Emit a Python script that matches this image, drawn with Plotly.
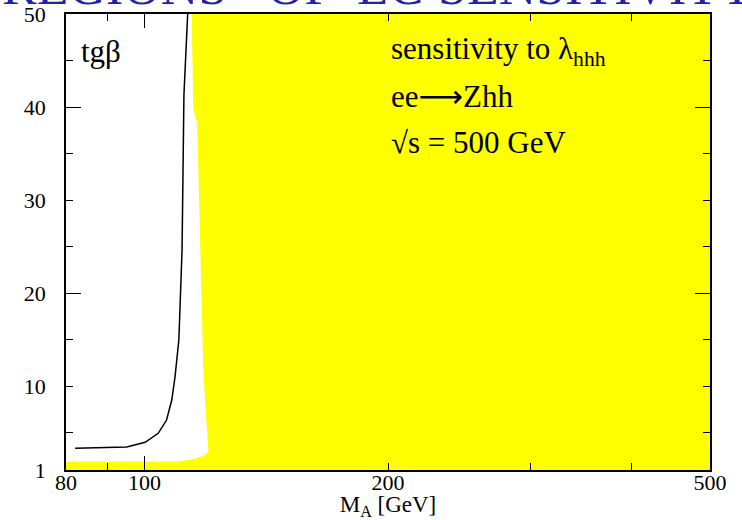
import plotly.graph_objects as go
import math

# ---- data ----
x_range = [80, 500]
y_range = [1, 50]
x_tick_vals = [80, 100, 200, 500]
x_tick_text = ["80", "100", "200", "500"]
x_minor_ticks = [90, 300, 400]
x_long_ticks = [100]
y_tick_vals = [1, 10, 20, 30, 40, 50]
y_tick_text = ["1", "10", "20", "30", "40", "50"]
y_minor_ticks = [5, 15, 25, 35, 45]
y_long_ticks = [20, 40]

# boundary of the non-sensitive (white) region, from top to bottom-left
bnd_ma = [114.4, 114.9, 114.9, 116.2, 116.8, 117.1, 118.2, 119.0, 120.0, 118.2, 114.8, 109.7, 80]
bnd_tgb = [50, 41.8, 39.9, 38.3, 30.0, 24.6, 12.1, 7.45, 2.97, 2.5, 2.15, 1.9, 1.9]

# black curve
curve_ma = [82.1, 95.1, 100.2, 104.0, 106.5, 108.1, 109.1, 110.3, 111.3, 111.9, 113.1]
curve_tgb = [3.33, 3.47, 3.98, 4.94, 6.37, 8.52, 11.0, 15.0, 24.6, 41.3, 50]

title_words = ["REGIONS", "OF", "LC", "SENSITIVITY"]
title_word_x = [0, 265, 355, 436]

# ---- figure ----
W, H = 742, 520
ml, mr, mt, mb = 66, 32, 14, 50
pw, ph = W - ml - mr, H - mt - mb
SERIF = "Liberation Serif"

poly_x = bnd_ma + [x_range[0], x_range[1], x_range[1]]
poly_y = bnd_tgb + [y_range[0], y_range[0], y_range[1]]

fig = go.Figure()
fig.add_trace(go.Scatter(x=poly_x, y=poly_y, fill="toself", fillcolor="#ffff00",
                         mode="lines", line=dict(width=0, color="#ffff00"),
                         showlegend=False, hoverinfo="skip"))
fig.add_trace(go.Scatter(x=curve_ma, y=curve_tgb, mode="lines",
                         line=dict(color="black", width=1.5),
                         showlegend=False, hoverinfo="skip"))
fig.add_trace(go.Scatter(x=[None], y=[None], xaxis="x2", yaxis="y2",
                         showlegend=False, hoverinfo="skip"))

axis_common = dict(showgrid=False, zeroline=False, showline=True, linecolor="black",
                   linewidth=1.5, ticks="inside", tickcolor="black", tickwidth=1.2,
                   mirror="ticks", automargin=False)

fig.update_layout(
    width=W, height=H,
    margin=dict(l=ml, r=mr, t=mt, b=mb, pad=0, autoexpand=False),
    paper_bgcolor="white", plot_bgcolor="white",
    xaxis=dict(type="log", range=[math.log10(x_range[0]), math.log10(x_range[1])],
               tickvals=x_tick_vals, ticktext=x_tick_text, ticklen=7,
               tickfont=dict(family=SERIF, size=22, color="black"),
               ticklabelstandoff=-8,
               minor=dict(tickvals=x_minor_ticks, ticks="inside", ticklen=7,
                          tickcolor="black", tickwidth=1.2, showgrid=False),
               title=dict(text="M<sub>A</sub> [GeV]", standoff=3,
                          font=dict(family=SERIF, size=23, color="black")),
               **axis_common),
    yaxis=dict(range=y_range, tickvals=y_tick_vals, ticktext=y_tick_text, ticklen=7,
               tickfont=dict(family=SERIF, size=22, color="black"),
               ticklabelstandoff=14,
               minor=dict(tickvals=y_minor_ticks, ticks="inside", ticklen=7,
                          tickcolor="black", tickwidth=1.2, showgrid=False),
               **axis_common),
    xaxis2=dict(type="log", range=[math.log10(x_range[0]), math.log10(x_range[1])],
                overlaying="x", anchor="y2", side="bottom", tickvals=x_long_ticks,
                ticklen=14, showticklabels=False, **axis_common),
    yaxis2=dict(range=y_range, overlaying="y", anchor="x2", side="left",
                tickvals=y_long_ticks, ticklen=15, showticklabels=False, **axis_common),
)

def px_x(p):
    return (p - ml) / pw

def px_y(p):
    return 1 - (p - mt) / ph

for word, xp in zip(title_words, title_word_x):
    fig.add_annotation(text=word, xref="paper", yref="paper", x=px_x(xp), y=px_y(17),
                       xanchor="left", yanchor="bottom", showarrow=False,
                       font=dict(family=SERIF, size=52, color="#2323a8"))

ARROW = '<span style="font-family:DejaVu Sans">⟶</span>'
# (text, left px, baseline px, extra offset of box bottom below baseline)
labels = [("tgβ", 79, 62, 9),
          ("sensitivity to λ<sub>hhh</sub>", 389, 61, 12),
          ("ee" + ARROW + "Zhh", 389, 107, 9),
          ("√s = 500 GeV", 389, 153, 9)]
for txt, xp, yb, off in labels:
    fig.add_annotation(text=txt, xref="paper", yref="paper", x=px_x(xp), y=px_y(yb + off),
                       xanchor="left", yanchor="bottom", showarrow=False,
                       font=dict(family=SERIF, size=31, color="black"))

fig.write_html("out.html")
